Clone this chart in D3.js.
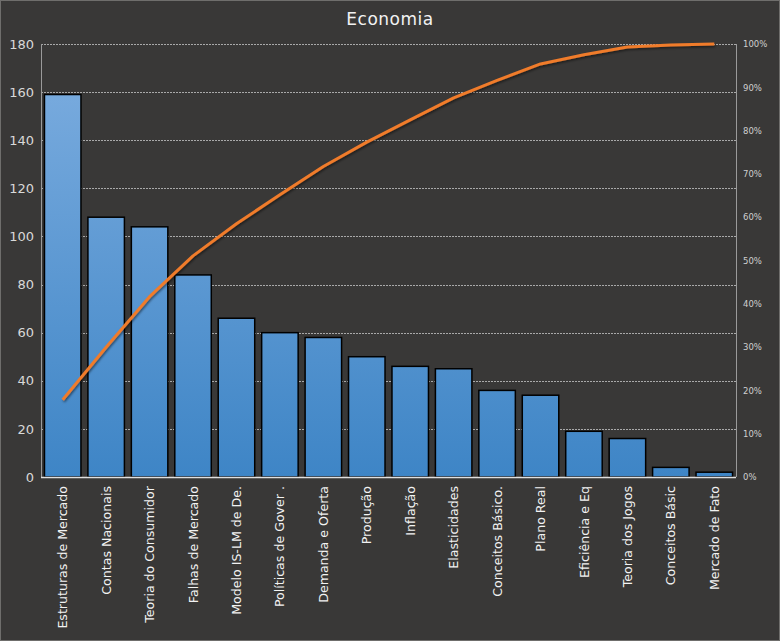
<!DOCTYPE html>
<html><head><meta charset="utf-8">
<script src="https://cdn.jsdelivr.net/npm/d3@7"></script>
<style>body{margin:0;background:#393837;}svg{display:block;}</style>
</head><body>
<svg id="c" width="780" height="641"></svg>
<script>
const categories = ["Estruturas de Mercado","Contas Nacionais","Teoria do Consumidor","Falhas de Mercado","Modelo IS-LM de De.","Políticas de Gover .","Demanda e Oferta","Produção","Inflação","Elasticidades","Conceitos Básico.","Plano Real","Eficiência e Eq","Teoria dos Jogos","Conceitos Básic","Mercado de Fato"];
const values = [159,108,104,84,66,60,58,50,46,45,36,34,19,16,4,2];
const leftTicks = [0,20,40,60,80,100,120,140,160,180];
const rightTicks = [0,0.1,0.2,0.3,0.4,0.5,0.6,0.7,0.8,0.9,1.0];

const total = d3.sum(values);
let acc = 0;
const cumulative = values.map(v => (acc += v) / total);

const svg = d3.select("#c");
const W = 780, H = 641;
const m = {l:41, r:44, t:44, b:164};
const x0 = m.l, x1 = W - m.r, y0 = H - m.b, y1 = m.t;

svg.append("rect").attr("x",0.5).attr("y",0.5).attr("width",W-1).attr("height",H-1)
  .attr("fill","#393837").attr("stroke","#6f6e6c");

const defs = svg.append("defs");
const g = defs.append("linearGradient").attr("id","bg").attr("gradientUnits","userSpaceOnUse")
  .attr("x1",0).attr("y1",y1).attr("x2",0).attr("y2",y0);
g.append("stop").attr("offset","0%").attr("stop-color","#7eaee0");
g.append("stop").attr("offset","100%").attr("stop-color","#3e85c6");
const f = defs.append("filter").attr("id","sh").attr("x","-5%").attr("y","-5%").attr("width","110%").attr("height","110%");
f.append("feDropShadow").attr("dx",1).attr("dy",1.5).attr("stdDeviation",1).attr("flood-color","#000").attr("flood-opacity",0.5);

const x = d3.scaleBand().domain(categories).range([x0,x1]).paddingInner(0.16).paddingOuter(0.08);
const y = d3.scaleLinear().domain([0,180]).range([y0,y1]);
const yr = d3.scaleLinear().domain([0,1]).range([y0,y1]);

// gridlines
svg.append("g").selectAll("line").data(leftTicks.filter(t=>t>0)).join("line")
  .attr("x1",x0).attr("x2",x1).attr("y1",d=>Math.round(y(d))+0.5).attr("y2",d=>Math.round(y(d))+0.5)
  .attr("stroke","#bdbdbd").attr("stroke-width",1).attr("stroke-dasharray","2,1").attr("opacity",0.85);

// bars
svg.append("g").selectAll("rect").data(values).join("rect")
  .attr("x",(d,i)=>x(categories[i])).attr("width",x.bandwidth())
  .attr("y",d=>y(d)).attr("height",d=>y0-y(d))
  .attr("fill","url(#bg)").attr("stroke","#000").attr("stroke-width",1.5);

// axes lines
svg.append("line").attr("x1",x0+0.5).attr("x2",x0+0.5).attr("y1",y1).attr("y2",y0).attr("stroke","#9a9a9a");
svg.append("line").attr("x1",x1+0.5).attr("x2",x1+0.5).attr("y1",y1).attr("y2",y0).attr("stroke","#9a9a9a");
svg.append("line").attr("x1",x0).attr("x2",x1).attr("y1",y0+0.5).attr("y2",y0+0.5).attr("stroke","#e0e0e0").attr("stroke-width",1.5);

// left axis
const la = svg.append("g").attr("transform",`translate(${x0},0)`)
  .call(d3.axisLeft(y).tickValues(leftTicks).tickSize(0).tickPadding(7));
la.select(".domain").remove();
la.selectAll("text").attr("fill","#d9d9d9").style("font-family","DejaVu Sans, sans-serif").style("font-size","13px");

// right axis
const ra = svg.append("g").attr("transform",`translate(${x1},0)`)
  .call(d3.axisRight(yr).tickValues(rightTicks).tickFormat(d3.format(".0%")).tickSize(0).tickPadding(7));
ra.select(".domain").remove();
ra.selectAll("text").attr("fill","#cfcfcf").style("font-family","DejaVu Sans, sans-serif").style("font-size","8.5px");

// x labels
svg.append("g").selectAll("text").data(categories).join("text")
  .attr("transform",d=>`translate(${x(d)+x.bandwidth()/2},${y0+9}) rotate(-90)`)
  .attr("text-anchor","end").attr("dy","0.36em")
  .attr("fill","#f2f2f2").style("font-family","DejaVu Sans, sans-serif").style("font-size","12.6px")
  .text(d=>d);

// cumulative line
const line = d3.line().x((d,i)=>x(categories[i])+x.bandwidth()/2).y(d=>yr(d));
svg.append("path").datum(cumulative).attr("d",line)
  .attr("fill","none").attr("stroke","#f07b2c").attr("stroke-width",3).attr("stroke-linejoin","round")
  .attr("filter","url(#sh)");

// title
svg.append("text").attr("x",W/2).attr("y",25).attr("text-anchor","middle")
  .attr("fill","#f2f2f2").style("font-family","DejaVu Sans, sans-serif").style("font-size","17px")
  .style("letter-spacing","0.5px").text("Economia");
</script>
</body></html>
